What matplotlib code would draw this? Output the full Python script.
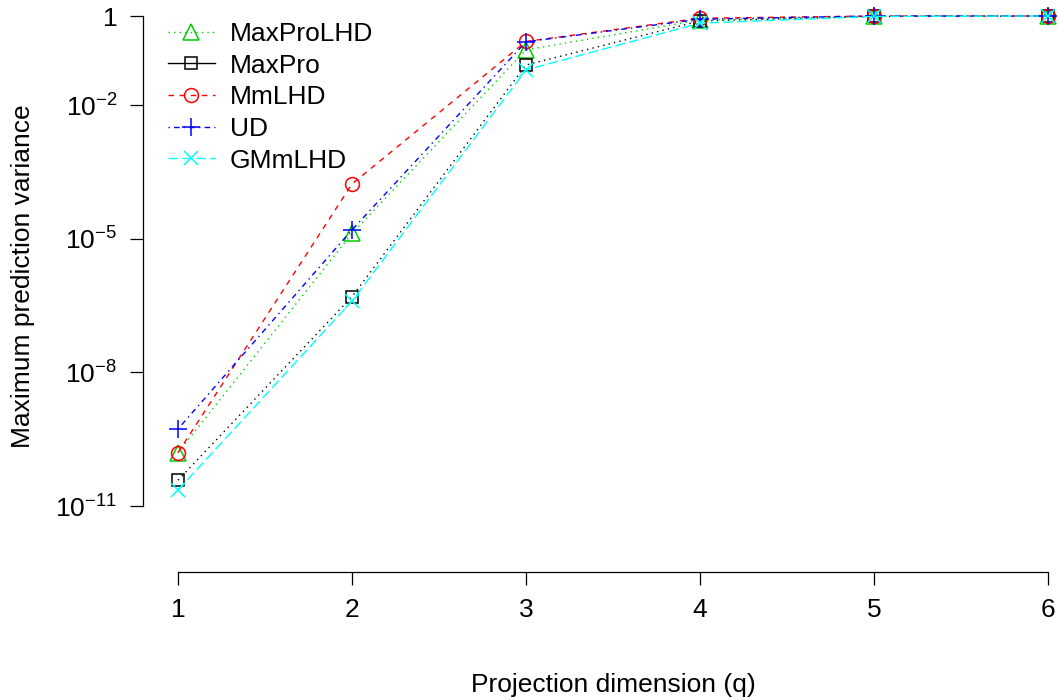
import numpy as np
import matplotlib
matplotlib.use("Agg")
import matplotlib.pyplot as plt
from matplotlib.lines import Line2D

plt.rcParams['font.family'] = ['Liberation Sans', 'DejaVu Sans']
plt.rcParams['mathtext.default'] = 'regular'

# ---- data (log10 of maximum prediction variance) ----
q = [1, 2, 3, 4, 5, 6]
maxprolhd_log = [-9.80, -4.88, -0.76, -0.09, -0.01, 0.0]
maxpro_log    = [-10.42, -6.30, -1.10, -0.11, -0.01, 0.0]
mmlhd_log     = [-9.80, -3.77, -0.57, -0.05, 0.0, 0.0]
ud_log        = [-9.27, -4.80, -0.58, -0.07, 0.0, 0.0]
gmmlhd_log    = [-10.64, -6.40, -1.21, -0.16, -0.01, 0.0]

series_names = ["MaxProLHD", "MaxPro", "MmLHD", "UD", "GMmLHD"]
series_logs = [maxprolhd_log, maxpro_log, mmlhd_log, ud_log, gmmlhd_log]

yticks_log = [0, -2, -5, -8, -11]
ytick_labels = ["1", "$10^{-2}$", "$10^{-5}$", "$10^{-8}$", "$10^{-11}$"]
xticks = [1, 2, 3, 4, 5, 6]

# ---- styles ----
colors = ["#00CD00", "black", "red", "blue", "cyan"]
markers = ["^", "s", "o", "+", "x"]
msizes = [11, 8.5, 10, 13, 10]
plot_dashes = [(1, 3), (1, 3), (4, 4), (1, 3, 4, 3), (7, 3)]
legend_dashes = [(1, 3), None, (4, 4), (1, 3, 4, 3), (7, 3)]

W, H = 1058, 700
fig = plt.figure(figsize=(W / 100, H / 100), dpi=100)
ax = fig.add_axes([143 / W, (H - 572) / H, (W - 143) / W, 572 / H])

FS = 19
lw = 1.0
for name, logs, c, m, ms, d in zip(series_names, series_logs, colors, markers, msizes, plot_dashes):
    vals = [10.0 ** v for v in logs]
    ax.plot(q, vals, color=c, lw=lw, dashes=d, marker=m, ms=ms,
            mfc='none', mec=c, mew=1.1, clip_on=False)

ax.set_yscale('log')
px_per_unit = 174.0
ax.set_xlim(1 - 35 / px_per_unit, 6 + 10 / px_per_unit)
dec = 44.55
ax.set_ylim(10 ** (-(572 - 16) / dec), 10 ** (16 / dec))

ax.set_xticks(xticks)
ax.set_xticklabels([str(x) for x in xticks])
ax.set_yticks([10.0 ** v for v in yticks_log])
ax.set_yticklabels(ytick_labels)
ax.yaxis.set_minor_locator(matplotlib.ticker.NullLocator())

for s in ['top', 'right']:
    ax.spines[s].set_visible(False)
ax.spines['left'].set_bounds(10.0 ** -11, 1.0)
ax.spines['bottom'].set_bounds(1, 6)
ax.spines['left'].set_linewidth(0.9)
ax.spines['bottom'].set_linewidth(0.9)
ax.tick_params(axis='both', direction='out', length=9.5, width=0.9,
               labelsize=FS, pad=9)
ax.patch.set_visible(False)

fig.text(613 / W, 1 - 685 / H, "Projection dimension (q)", fontsize=FS,
         ha='center', va='center')
fig.text(23 / W, 1 - 276 / H, "Maximum prediction variance", fontsize=FS,
         ha='center', va='center', rotation=90)

handles = []
for name, c, m, ms, d in zip(series_names, colors, markers, msizes, legend_dashes):
    kw = dict(color=c, lw=lw, marker=m, ms=ms, mfc='none', mec=c, mew=1.1)
    if d is not None:
        kw['dashes'] = d
    handles.append(Line2D([], [], **kw))
leg = fig.legend(handles, series_names, loc='upper left',
                 bbox_to_anchor=(168 / W, 1 - 22 / H), bbox_transform=fig.transFigure,
                 frameon=False, fontsize=FS, handlelength=47 / 26.4,
                 handletextpad=15 / 26.4, labelspacing=0.29,
                 borderpad=0, borderaxespad=0)

fig.savefig("out.png", dpi=100)
